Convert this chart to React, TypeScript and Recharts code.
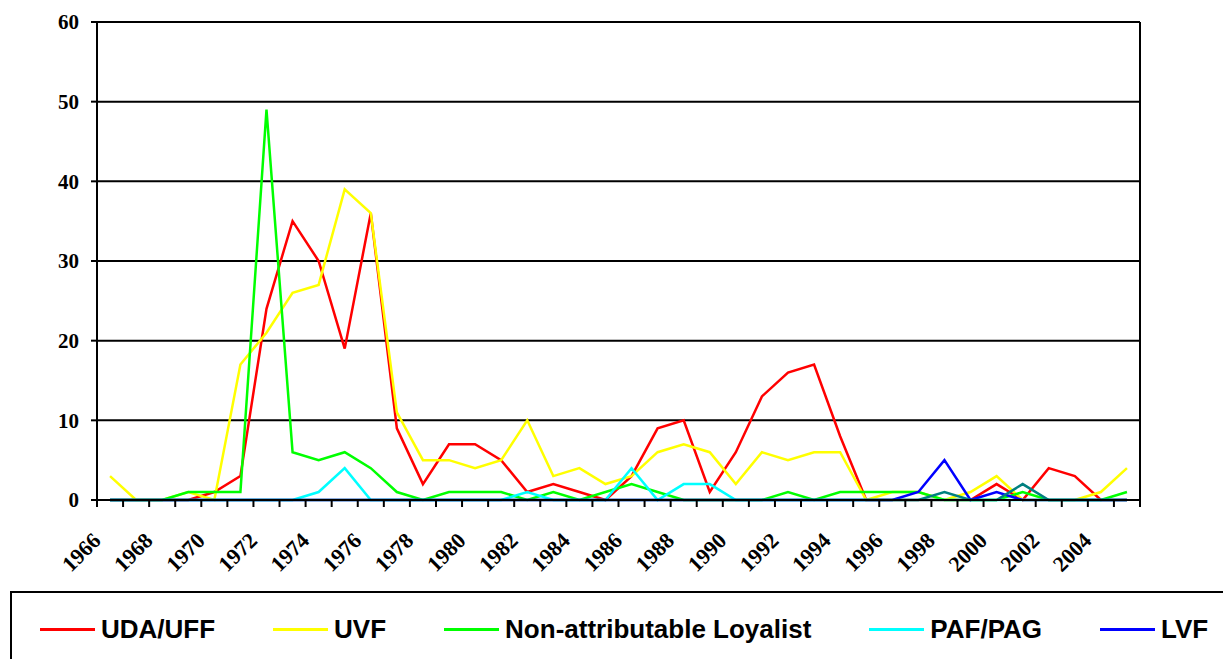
import React from "react";
import {
  LineChart,
  Line,
  XAxis,
  YAxis,
  CartesianGrid,
  ReferenceLine,
} from "recharts";

const years = [
  1966, 1967, 1968, 1969, 1970, 1971, 1972, 1973, 1974, 1975, 1976, 1977,
  1978, 1979, 1980, 1981, 1982, 1983, 1984, 1985, 1986, 1987, 1988, 1989,
  1990, 1991, 1992, 1993, 1994, 1995, 1996, 1997, 1998, 1999, 2000, 2001,
  2002, 2003, 2004, 2005,
];

const udaUff = [
  0, 0, 0, 0, 1, 3, 24, 35, 30, 19, 36, 9, 2, 7, 7, 5, 1, 2, 1, 0, 3, 9, 10,
  1, 6, 13, 16, 17, 8, 0, 0, 0, 0, 0, 2, 0, 4, 3, 0, 0,
];
const uvf = [
  3, 0, 0, 1, 0, 17, 21, 26, 27, 39, 36, 11, 5, 5, 4, 5, 10, 3, 4, 2, 3, 6, 7,
  6, 2, 6, 5, 6, 6, 0, 1, 1, 0, 1, 3, 0, 0, 0, 1, 4,
];
const nonAttributable = [
  0, 0, 0, 1, 1, 1, 49, 6, 5, 6, 4, 1, 0, 1, 1, 1, 0, 1, 0, 1, 2, 1, 0, 0, 0,
  0, 1, 0, 1, 1, 1, 1, 0, 0, 0, 1, 0, 0, 0, 1,
];
const pafPag = [
  0, 0, 0, 0, 0, 0, 0, 0, 1, 4, 0, 0, 0, 0, 0, 0, 1, 0, 0, 0, 4, 0, 2, 2, 0,
  0, 0, 0, 0, 0, 0, 0, 0, 0, 0, 0, 0, 0, 0, 0,
];
const lvf = [
  0, 0, 0, 0, 0, 0, 0, 0, 0, 0, 0, 0, 0, 0, 0, 0, 0, 0, 0, 0, 0, 0, 0, 0, 0,
  0, 0, 0, 0, 0, 0, 1, 5, 0, 1, 0, 0, 0, 0, 0,
];
// sixth series: its legend entry falls off the right edge of the original
const rhd = [
  0, 0, 0, 0, 0, 0, 0, 0, 0, 0, 0, 0, 0, 0, 0, 0, 0, 0, 0, 0, 0, 0, 0, 0, 0,
  0, 0, 0, 0, 0, 0, 0, 1, 0, 0, 2, 0, 0, 0, 0,
];

const labelYears = [
  1966, 1968, 1970, 1972, 1974, 1976, 1978, 1980, 1982, 1984, 1986, 1988,
  1990, 1992, 1994, 1996, 1998, 2000, 2002, 2004,
];
const yTicks = [0, 10, 20, 30, 40, 50, 60];

const series = [
  { key: "udaUff", name: "UDA/UFF", color: "#ff0000", values: udaUff, legend: true },
  { key: "uvf", name: "UVF", color: "#ffff00", values: uvf, legend: true },
  {
    key: "nonAttributable",
    name: "Non-attributable Loyalist",
    color: "#00ff00",
    values: nonAttributable,
    legend: true,
  },
  { key: "pafPag", name: "PAF/PAG", color: "#00ffff", values: pafPag, legend: true },
  { key: "lvf", name: "LVF", color: "#0000ff", values: lvf, legend: true },
  { key: "rhd", name: "Red Hand Defenders", color: "#008080", values: rhd, legend: false },
];

const data = years.map((year, i) => {
  const row: Record<string, number> = { year };
  series.forEach((s) => {
    row[s.key] = s.values[i];
  });
  return row;
});

// tick marks sit on the category boundaries, like Excel
const boundaries = [...years.map((y) => y - 0.5), years[years.length - 1] + 0.5];

const serif = "'Liberation Serif', 'Times New Roman', serif";
const sans = "'Liberation Sans', Arial, sans-serif";

const YearTick = (props: any) => {
  const { x, y, payload } = props;
  const year = payload.value + 0.5;
  if (!labelYears.includes(year)) return <g />;
  const tx = x + 5;
  const ty = y + 33;
  return (
    <text
      x={tx}
      y={ty}
      textAnchor="end"
      transform={`rotate(-45, ${tx}, ${ty})`}
      fontFamily={serif}
      fontWeight="bold"
      fontSize={22}
      fill="#000"
    >
      {year}
    </text>
  );
};

export default function App() {
  return (
    <div
      style={{
        position: "absolute",
        left: 0,
        top: 0,
        width: 1223,
        height: 659,
        overflow: "hidden",
        background: "#fff",
      }}
    >
      <LineChart
        width={1223}
        height={590}
        data={data}
        margin={{ top: 22, right: 83, bottom: 0, left: 0 }}
      >
        <CartesianGrid
          vertical={false}
          stroke="#000"
          strokeWidth={2}
          strokeOpacity={1}
        />
        <XAxis
          dataKey="year"
          type="number"
          domain={[1965.5, 2005.5]}
          ticks={boundaries}
          interval={0}
          height={90}
          axisLine={{ stroke: "#000", strokeWidth: 2 }}
          tickLine={{ stroke: "#000", strokeWidth: 2 }}
          tickSize={7}
          tick={<YearTick />}
        />
        <YAxis
          domain={[0, 60]}
          ticks={yTicks}
          interval={0}
          width={97}
          axisLine={{ stroke: "#000", strokeWidth: 2 }}
          tickLine={{ stroke: "#000", strokeWidth: 2 }}
          tickSize={6}
          tickMargin={12}
          tick={{
            fill: "#000",
            fontFamily: serif,
            fontWeight: "bold",
            fontSize: 21,
          }}
        />
        <ReferenceLine x={2005.5} stroke="#000" strokeWidth={2} />
        {series.map((s) => (
          <Line
            key={s.key}
            type="linear"
            dataKey={s.key}
            name={s.name}
            stroke={s.color}
            strokeWidth={2.5}
            dot={false}
            activeDot={false}
            isAnimationActive={false}
          />
        ))}
      </LineChart>
      <div
        style={{
          position: "absolute",
          left: 10,
          top: 591,
          width: 1400,
          height: 200,
          border: "2px solid #000",
          boxSizing: "border-box",
        }}
      >
        <div
          style={{
            position: "absolute",
            left: 28,
            top: 21,
            display: "flex",
            alignItems: "center",
            gap: 58,
            whiteSpace: "nowrap",
            fontFamily: sans,
            fontWeight: "bold",
            fontSize: 26,
            color: "#000",
          }}
        >
          {series
            .filter((s) => s.legend)
            .map((s) => (
              <div
                key={s.key}
                style={{ display: "flex", alignItems: "center", gap: 6 }}
              >
                <div style={{ width: 55, height: 3, background: s.color }} />
                <span>{s.name}</span>
              </div>
            ))}
        </div>
      </div>
    </div>
  );
}
